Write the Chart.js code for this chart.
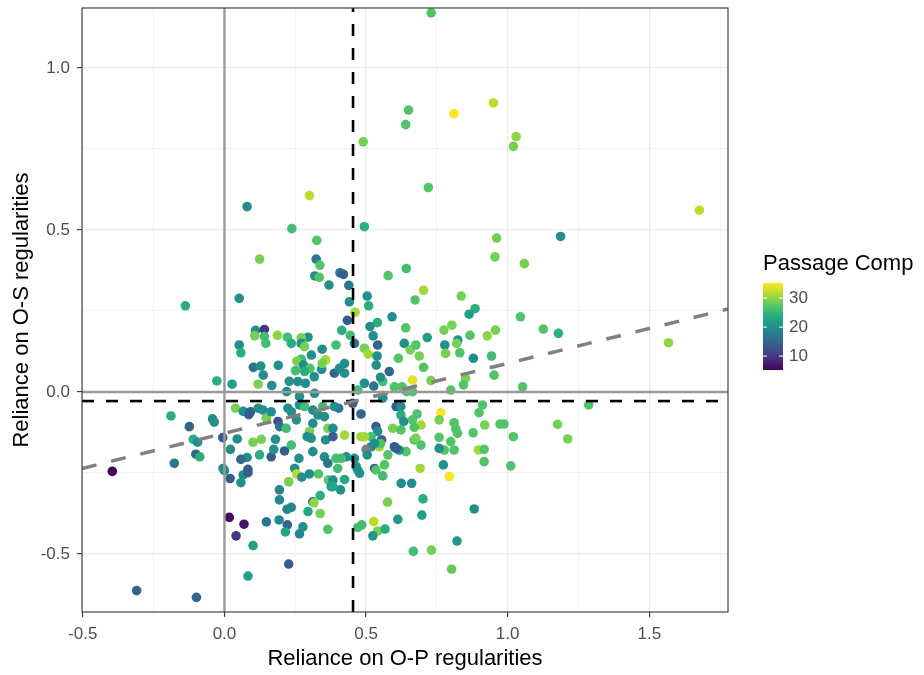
<!DOCTYPE html>
<html>
<head>
<meta charset="utf-8">
<script src="https://cdn.jsdelivr.net/npm/chart.js@4.4.0/dist/chart.umd.min.js"></script>
<style>
  html, body { margin: 0; padding: 0; background: #fff; }
</style>
</head>
<body>
<canvas id="chart" width="924" height="675"></canvas>
<script>
// O-P reliance (x), O-S reliance (y), passage comprehension score (colour)
const xValues = [
  0.73, 0.08, 0.30, 0.65, 0.64, 0.49, 0.81, 0.95, 1.03, 1.02,
  0.72, 0.238, 0.326, 0.124, 0.324, 0.337, 0.319, 0.335, 0.369, 0.052,
  -0.138, 0.11, 0.141, 0.107, 0.141, 0.187, 0.222, 0.295, 0.271, 0.494,
  0.961, 0.955, 1.059, 0.578, 0.642, 0.408, 0.42, 0.439, 0.703, 0.673,
  0.504, 0.509, 0.441, 0.836, 0.885, 0.864, 1.045, 0.461, 0.434, 0.54,
  0.592, 0.514, 0.64, 0.414, 0.775, 0.803, 0.957, 0.928, 0.867, 0.824,
  0.716, 0.525, 0.444, 1.187, 1.677, 1.126, 1.179, 1.568, 1.286, 1.176,
  1.212, -0.396, 0.052, 0.058, 0.146, 0.102, 0.128, 0.19, 0.137, -0.027,
  0.027, 0.119, 0.167, 0.229, 0.251, 0.271, 0.256, 0.279, 0.302, 0.307,
  0.345, 0.357, 0.343, 0.286, 0.317, 0.236, 0.271, 0.283, 0.22, 0.283,
  0.259, 0.345, 0.265, 0.318, 0.039, 0.066, 0.086, 0.092, 0.119, 0.136,
  0.148, 0.165, 0.189, 0.195, 0.218, 0.224, 0.236, 0.254, 0.265, 0.283,
  0.312, 0.33, 0.312, 0.353, 0.347, 0.365, 0.3, 0.292, 0.306, 0.357,
  -0.189, -0.124, -0.042, -0.036, -0.11, -0.095, -0.101, -0.087, -0.177, -0.006,
  0.045, 0.021, 0.101, 0.13, 0.08, 0.058, 0.124, 0.165, 0.18, 0.174,
  0.212, 0.236, 0.263, 0.312, 0.353, 0.365, 0.248, 0.083, -0.005, 0.394,
  0.459, 0.494, 0.508, 0.541, 0.539, 0.536, 0.582, 0.614, 0.635, 0.656,
  0.676, 0.688, 0.703, 0.778, 0.781, 0.82, 0.831, 0.879, 0.943, 0.952,
  1.053, 0.729, 0.664, 0.627, 0.643, 0.664, 0.6, 0.559, 0.551, 0.527,
  0.494, 0.471, 0.388, 0.424, 0.406, 0.424, 0.851, 0.844, 0.799, 0.403,
  0.388, 0.453, 0.559, 0.606, 0.623, 0.623, 0.482, 0.633, 0.68, 0.764,
  0.758, 0.811, 0.817, 0.823, 0.899, 0.911, 0.919, 0.878, 0.973, 0.987,
  1.02, 0.664, 0.694, 0.67, 0.594, 0.623, 0.535, 0.541, 0.518, 0.494,
  0.424, 0.383, 0.383, 0.67, 0.676, 0.758, 0.799, 0.776, 0.758, 0.811,
  0.897, 0.917, 0.917, 1.011, 0.773, 0.694, 0.641, 0.617, 0.6, 0.577,
  0.547, 0.555, 0.551, 0.53, 0.518, 0.5, 0.482, 0.504, 0.53, 0.459,
  0.465, 0.43, 0.412, 0.394, 0.4, 0.565, 0.606, 0.691, 0, 0.02,
  0.058, 0.066, 0.083, 0.017, 0.069, 0.041, 0.101, 0.148, 0.194, 0.194,
  0.227, 0.255, 0.273, 0.3, 0.332, 0.367, 0.377, 0.221, 0.236, 0.193,
  0.222, 0.215, 0.265, 0.277, 0.295, 0.312, 0.316, 0.338, 0.338, 0.365,
  0.227, 0.083, -0.31, -0.099, 0.559, 0.424, 0.41, 0.471, 0.535, 0.383,
  0.383, 0.477, 0.624, 0.661, 0.794, 0.576, 0.701, 0.697, 0.612, 0.882,
  0.527, 0.485, 0.471, 0.541, 0.524, 0.567, 0.821, 0.667, 0.731, 0.802
];
const yValues = [
  1.17, 0.572, 0.606, 0.870, 0.825, 0.772, 0.859, 0.892, 0.788, 0.758,
  0.631, 0.504, 0.468, 0.41, 0.41, 0.391, 0.358, 0.354, 0.33, 0.289,
  0.266, 0.19, 0.193, 0.173, 0.171, 0.175, 0.169, 0.169, 0.167, 0.51,
  0.475, 0.417, 0.396, 0.359, 0.381, 0.368, 0.363, 0.329, 0.314, 0.284,
  0.296, 0.266, 0.278, 0.296, 0.257, 0.24, 0.232, 0.246, 0.221, 0.214,
  0.232, 0.202, 0.198, 0.19, 0.191, 0.206, 0.191, 0.173, 0.175, 0.16,
  0.168, 0.173, 0.175, 0.48, 0.561, 0.194, 0.181, 0.152, -0.04, -0.1,
  -0.145, -0.245, 0.145, 0.121, 0.15, 0.076, 0.08, 0.082, 0.052, 0.034,
  0.024, 0.024, 0.02, 0.033, 0.066, 0.101, 0.095, 0.083, 0.073, 0.114,
  0.132, 0.099, 0.07, 0.027, 0.047, 0.15, 0.15, 0.14, 0.001, 0.063,
  0.032, 0.088, -0.014, -0.004, -0.05, -0.06, -0.07, -0.061, -0.05, -0.056,
  -0.081, -0.061, -0.091, -0.107, -0.112, -0.05, -0.061, -0.086, -0.04, -0.045,
  -0.056, -0.071, -0.097, -0.076, -0.045, -0.112, -0.122, -0.138, -0.143, -0.148,
  -0.074, -0.107, -0.083, -0.093, -0.146, -0.155, -0.192, -0.2, -0.22, -0.141,
  -0.145, -0.177, -0.155, -0.146, -0.202, -0.208, -0.194, -0.2, -0.146, -0.177,
  -0.182, -0.164, -0.205, -0.184, -0.2, -0.22, -0.236, -0.239, -0.236, 0.145,
  0.15, 0.135, 0.117, 0.145, 0.111, 0.083, 0.063, 0.104, 0.15, 0.13,
  0.145, 0.111, 0.076, 0.145, 0.119, 0.15, 0.121, 0.104, 0.111, 0.052,
  0.016, 0.035, 0.037, 0.016, 0.001, 0.001, 0.016, 0.032, 0.045, 0.018,
  0.027, 0.006, 0.058, 0.088, 0.073, 0.058, 0.042, 0.022, 0.006, -0.05,
  -0.045, -0.035, -0.019, -0.045, -0.045, -0.071, -0.068, -0.091, -0.068, -0.064,
  -0.086, -0.095, -0.115, -0.128, -0.064, -0.04, -0.102, -0.126, -0.099, -0.099,
  -0.138, -0.086, -0.102, -0.109, -0.112, -0.117, -0.107, -0.122, -0.138, -0.138,
  -0.133, -0.112, -0.138, -0.148, -0.143, -0.14, -0.153, -0.179, -0.174, -0.179,
  -0.179, -0.177, -0.215, -0.228, -0.225, -0.164, -0.184, -0.179, -0.169, -0.194,
  -0.169, -0.148, -0.159, -0.159, -0.169, -0.177, -0.138, -0.194, -0.236, -0.205,
  -0.23, -0.2, -0.205, -0.205, -0.236, -0.225, -0.174, -0.236, -0.243, -0.267,
  -0.28, -0.256, -0.249, -0.387, -0.408, -0.444, -0.474, -0.401, -0.302, -0.333,
  -0.277, -0.253, -0.263, -0.253, -0.253, -0.272, -0.292, -0.362, -0.356, -0.395,
  -0.41, -0.432, -0.438, -0.416, -0.369, -0.339, -0.342, -0.32, -0.375, -0.424,
  -0.531, -0.568, -0.613, -0.634, -0.259, -0.27, -0.302, -0.241, -0.241, -0.272,
  -0.292, -0.251, -0.282, -0.282, -0.261, -0.34, -0.33, -0.38, -0.393, -0.361,
  -0.4, -0.41, -0.418, -0.429, -0.444, -0.423, -0.46, -0.492, -0.488, -0.547
];
const compValues = [
  27, 20, 32, 27, 27, 29, 35, 32, 30, 29,
  27, 26, 27, 29, 17, 27, 20, 27, 20, 20,
  24, 20, 10, 29, 26, 30, 26, 20, 29, 24,
  29, 29, 29, 27, 26, 17, 14, 17, 31, 27,
  20, 24, 20, 29, 24, 22, 27, 31, 14, 24,
  20, 20, 27, 24, 29, 29, 29, 30, 27, 20,
  22, 20, 26, 20, 32, 27, 24, 30, 27, 29,
  29, 5, 20, 24, 26, 17, 20, 20, 20, 24,
  22, 29, 20, 20, 26, 26, 29, 20, 27, 20,
  20, 31, 20, 20, 20, 24, 20, 29, 20, 24,
  20, 29, 20, 20, 29, 20, 14, 14, 20, 20,
  29, 20, 13, 17, 26, 20, 20, 20, 20, 26,
  20, 20, 20, 20, 26, 29, 29, 20, 20, 20,
  24, 15, 20, 20, 24, 20, 15, 24, 17, 14,
  20, 20, 29, 29, 20, 15, 24, 14, 20, 20,
  14, 26, 20, 20, 20, 17, 20, 14, 20, 26,
  17, 29, 31, 15, 20, 20, 15, 27, 20, 29,
  27, 29, 27, 20, 29, 29, 27, 20, 26, 27,
  27, 29, 34, 27, 27, 27, 27, 26, 20, 17,
  20, 26, 15, 20, 20, 20, 29, 27, 27, 17,
  20, 14, 20, 14, 20, 24, 15, 20, 27, 35,
  29, 27, 27, 27, 27, 27, 29, 27, 27, 27,
  27, 27, 31, 27, 29, 27, 14, 20, 26, 31,
  31, 20, 14, 27, 29, 27, 27, 27, 20, 27,
  31, 27, 27, 27, 20, 27, 27, 20, 14, 27,
  31, 14, 27, 20, 20, null, 31, 20, 14, 20,
  20, 20, 26, 26, 26, 27, 14, 31, 20, 14,
  20, 20, 14, 6, 7, 10, 22, 17, 19, 19,
  29, 32, 20, 20, 27, 27, 20, 19, 19, 19,
  15, 23, 19, 20, 23, 14, 30, 24, 29, 27,
  14, 22, 15, 15, 26, 23, 20, 20, 27, 20,
  23, 20, 20, 20, 35, 29, 24, 22, 21, 20,
  32, 26, 26, 29, 21, 24, 21, 26, 29, 28
];

const xTickValues = [-0.5, -0.25, 0, 0.25, 0.5, 0.75, 1, 1.25, 1.5, 1.75];
const yTickValues = [-0.5, -0.25, 0, 0.25, 0.5, 0.75, 1];
const xLimits = [-0.503, 1.778];
const yLimits = [-0.679, 1.185];

// reference lines: medians (dashed black) and linear fit (dashed grey)
const medianOP = 0.454;
const medianOS = -0.028;
const fitX = [-0.503, 1.778];
const fitY = [-0.236, 0.256];

const colourLimits = [5.2, 35.2];
const colourTicks = [10, 20, 30];
const legendTitle = 'Passage Comp';

const FONT = '"Liberation Sans", Arial, sans-serif';

var viridisStops = ['#440154', '#482475', '#414487', '#355f8d', '#2a788e', '#21918c',
    '#22a884', '#44bf70', '#7ad151', '#bddf26', '#fde725'];

function hexToRgb(h) {
    return [parseInt(h.slice(1, 3), 16), parseInt(h.slice(3, 5), 16), parseInt(h.slice(5, 7), 16)];
}

function viridis(t) {
    t = Math.max(0, Math.min(1, t));
    var pos = t * (viridisStops.length - 1);
    var i = Math.min(Math.floor(pos), viridisStops.length - 2);
    var f = pos - i;
    var a = hexToRgb(viridisStops[i]), b = hexToRgb(viridisStops[i + 1]);
    var c = a.map(function(v, k) { return Math.round(v + (b[k] - v) * f); });
    return 'rgb(' + c.join(',') + ')';
}

function pointColour(v) {
    if (v === null) return '#7f7f7f';
    return viridis((v - colourLimits[0]) / (colourLimits[1] - colourLimits[0]));
}

function isMajor(v) {
    return Math.abs(v * 2 - Math.round(v * 2)) < 1e-6;
}

var points = xValues.map(function(x, i) { return { x: x, y: yValues[i] }; });

function refLine(data, colour, width, dash) {
    return {
        type: 'line',
        data: data,
        borderColor: colour,
        borderWidth: width,
        borderDash: dash,
        pointRadius: 0,
        fill: false,
        tension: 0,
        order: 0
    };
}

var frameAndLegend = {
    id: 'frameAndLegend',
    afterDraw: function(chart) {
        var ctx = chart.ctx;
        var a = chart.chartArea;
        ctx.save();
        ctx.strokeStyle = '#333333';
        ctx.lineWidth = 1.1;
        ctx.strokeRect(a.left, a.top, a.right - a.left, a.bottom - a.top);

        // colour bar legend
        var barX = 763, barTop = 283, barW = 20, barH = 87;
        ctx.fillStyle = '#000';
        ctx.font = '22px ' + FONT;
        ctx.textAlign = 'left';
        ctx.textBaseline = 'alphabetic';
        ctx.fillText(legendTitle, barX, 270);

        var grad = ctx.createLinearGradient(0, barTop + barH, 0, barTop);
        for (var s = 0; s <= 20; s++) {
            grad.addColorStop(s / 20, viridis(s / 20));
        }
        ctx.fillStyle = grad;
        ctx.fillRect(barX, barTop, barW, barH);

        ctx.strokeStyle = '#ffffff';
        ctx.lineWidth = 1;
        ctx.fillStyle = '#4d4d4d';
        ctx.font = '17px ' + FONT;
        ctx.textBaseline = 'middle';
        colourTicks.forEach(function(v) {
            var ty = barTop + barH - (v - colourLimits[0]) / (colourLimits[1] - colourLimits[0]) * barH;
            ctx.beginPath();
            ctx.moveTo(barX, ty); ctx.lineTo(barX + 4, ty);
            ctx.moveTo(barX + barW - 4, ty); ctx.lineTo(barX + barW, ty);
            ctx.stroke();
            ctx.fillText(String(v), barX + barW + 6, ty);
        });
        ctx.restore();
    }
};

function gridOpts() {
    return {
        color: '#ebebeb',
        lineWidth: function(c) { return c.tick && isMajor(c.tick.value) ? 1.2 : 0.6; },
        drawTicks: true,
        tickLength: 5,
        tickWidth: 1.1,
        tickColor: function(c) { return c.tick && isMajor(c.tick.value) ? '#333333' : 'rgba(0,0,0,0)'; }
    };
}

function tickOpts(pad) {
    return {
        autoSkip: false,
        maxRotation: 0,
        padding: pad,
        color: '#4d4d4d',
        font: { family: FONT, size: 17 },
        callback: function(v) { return isMajor(v) ? v.toFixed(1) : ''; }
    };
}

// keep the panel where the reference has it: no extra room for end labels
function noEdgePadding(s) {
    s.paddingTop = 0;
    s.paddingBottom = 0;
    s.paddingLeft = 0;
    s.paddingRight = 0;
}

var chart = new Chart(document.getElementById('chart').getContext('2d'), {
    type: 'scatter',
    data: {
        datasets: [
            refLine([{ x: 0, y: yLimits[0] }, { x: 0, y: yLimits[1] }], '#999999', 2.4, []),
            refLine([{ x: xLimits[0], y: 0 }, { x: xLimits[1], y: 0 }], '#999999', 2.4, []),
            refLine([{ x: fitX[0], y: fitY[0] }, { x: fitX[1], y: fitY[1] }], '#808080', 3.5, [15, 15]),
            refLine([{ x: medianOP, y: yLimits[0] }, { x: medianOP, y: yLimits[1] }], '#000000', 2.6, [12, 12]),
            refLine([{ x: xLimits[0], y: medianOS }, { x: xLimits[1], y: medianOS }], '#000000', 2.6, [12, 12]),
            {
                type: 'scatter',
                data: points,
                pointRadius: 4.8,
                pointHoverRadius: 4.8,
                borderWidth: 0,
                pointBackgroundColor: function(c) { return pointColour(compValues[c.dataIndex]); },
                order: 1
            }
        ]
    },
    options: {
        responsive: false,
        animation: false,
        devicePixelRatio: 1,
        layout: { padding: { top: 8, right: 196, left: 0, bottom: 0 } },
        plugins: {
            legend: { display: false },
            tooltip: { enabled: false }
        },
        scales: {
            x: {
                type: 'linear',
                min: xLimits[0],
                max: xLimits[1],
                afterBuildTicks: function(s) { s.ticks = xTickValues.map(function(v) { return { value: v }; }); },
                afterFit: function(s) { s.height = 63; noEdgePadding(s); },
                grid: gridOpts(),
                border: { display: false },
                ticks: tickOpts(7),
                title: {
                    display: true,
                    text: 'Reliance on O-P regularities',
                    color: '#000',
                    font: { family: FONT, size: 22 },
                    padding: { top: 0, bottom: 3 }
                }
            },
            y: {
                type: 'linear',
                min: yLimits[0],
                max: yLimits[1],
                afterBuildTicks: function(s) { s.ticks = yTickValues.map(function(v) { return { value: v }; }); },
                afterFit: function(s) { s.width = 82; noEdgePadding(s); },
                grid: gridOpts(),
                border: { display: false },
                ticks: tickOpts(7),
                title: {
                    display: true,
                    text: 'Reliance on O-S regularities',
                    color: '#000',
                    font: { family: FONT, size: 22 },
                    padding: { top: 9, bottom: 0 }
                }
            }
        }
    },
    plugins: [frameAndLegend]
});
</script>
</body>
</html>
